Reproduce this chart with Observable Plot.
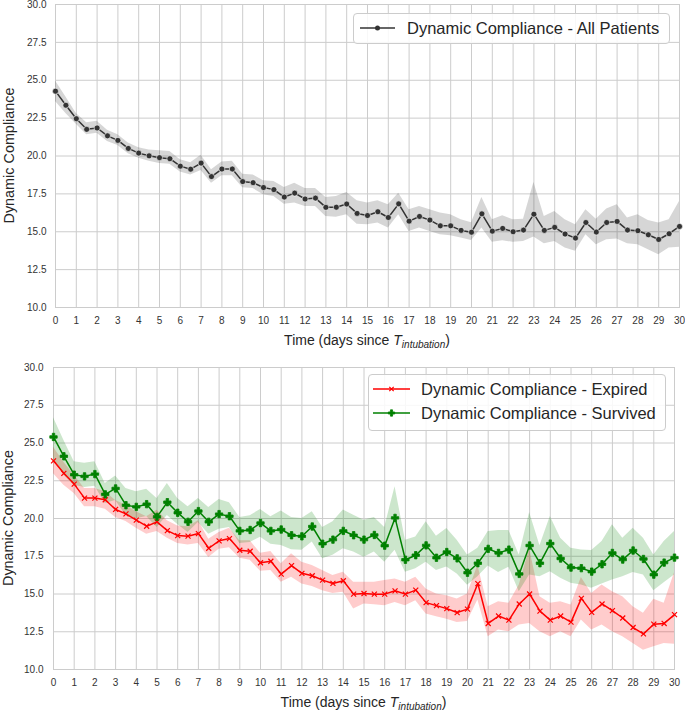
<!DOCTYPE html>
<html><head><meta charset="utf-8">
<script src="https://cdn.jsdelivr.net/npm/d3@7"></script>
<script src="https://cdn.jsdelivr.net/npm/@observablehq/plot@0.6"></script>
<style>
body{margin:0;background:#fff;font-family:"Liberation Sans",Arial,sans-serif;}
#wrap{position:relative;width:685px;height:711px;overflow:hidden;}
.panel{position:relative;width:685px;}
.panel svg{display:block;}
.legend{position:absolute;box-sizing:border-box;background:rgba(255,255,255,0.85);border:1px solid #cccccc;border-radius:4px;font-size:16.5px;color:#262626;}
.legend .row{position:absolute;left:0;right:0;height:22px;}
.legend .row svg{position:absolute;top:0;}
.legend .row span{position:absolute;top:0;line-height:22px;white-space:nowrap;}
</style></head><body>
<div id="wrap"><div class="panel" id="p1"></div><div class="panel" id="p2"></div></div>
<script>
// ---- data ----
const days = [0,0.5,1,1.5,2,2.5,3,3.5,4,4.5,5,5.5,6,6.5,7,7.5,8,8.5,9,9.5,10,10.5,11,11.5,12,12.5,13,13.5,14,14.5,15,15.5,16,16.5,17,17.5,18,18.5,19,19.5,20,20.5,21,21.5,22,22.5,23,23.5,24,24.5,25,25.5,26,26.5,27,27.5,28,28.5,29,29.5,30];
const xTicks = [0,1,2,3,4,5,6,7,8,9,10,11,12,13,14,15,16,17,18,19,20,21,22,23,24,25,26,27,28,29,30];
const yTicks = [10,12.5,15,17.5,20,22.5,25,27.5,30];

const allMean = [24.28,23.35,22.46,21.76,21.85,21.33,21.03,20.5,20.19,20.01,19.89,19.82,19.33,19.13,19.53,18.64,19.14,19.14,18.31,18.24,17.92,17.78,17.29,17.55,17.16,17.22,16.61,16.62,16.83,16.21,16.07,16.32,15.94,16.84,15.7,16.01,15.77,15.39,15.39,15.09,14.97,16.18,15.04,15.22,15.0,15.11,16.16,15.09,15.29,14.85,14.58,15.61,14.98,15.61,15.68,15.11,15.07,14.8,14.49,14.87,15.35];
const allLow = [23.6,22.8,22.1,21.4,21.5,20.95,20.7,20.15,19.85,19.65,19.5,19.45,18.95,18.75,19.05,18.2,18.7,18.7,17.9,17.85,17.45,17.32,16.82,16.89,16.67,16.67,16.01,15.96,16.12,15.5,15.46,15.57,15.24,16.12,15.02,15.24,15.02,14.8,14.73,14.58,14.43,15.24,14.3,14.41,14.3,14.36,14.65,14.21,14.36,13.93,13.71,14.8,14.14,14.47,14.52,14.21,14.14,13.82,13.49,13.93,13.97];
const allHigh = [24.95,23.9,22.8,22.2,22.3,21.7,21.4,20.85,20.55,20.4,20.35,20.3,19.75,19.55,20.05,19.1,19.6,19.65,18.8,18.75,18.36,18.31,17.92,18.2,17.85,17.85,17.26,17.32,17.59,17.04,16.89,17.04,16.78,17.54,16.45,16.67,16.45,16.23,16.12,15.79,15.6,17.26,15.79,16.05,15.79,15.83,18.25,16.01,16.34,15.79,15.46,16.45,15.83,16.5,16.78,15.9,16.12,15.75,15.57,15.79,17.0];

const survMean = [25.4,24.12,22.9,22.79,22.94,21.6,21.99,20.88,20.77,20.95,20.11,21.08,20.38,19.78,20.49,19.78,20.29,20.15,19.18,19.24,19.7,19.18,19.27,18.89,18.82,19.47,18.33,18.6,19.18,18.89,18.6,18.91,18.2,20.04,17.27,17.57,18.22,17.4,17.78,17.36,16.41,17.04,17.99,17.72,17.94,16.33,18.21,17.04,18.34,17.35,16.75,16.71,16.48,16.97,17.72,17.28,17.88,17.32,16.28,17.08,17.41];
const survLow = [23.85,22.87,22.2,22.05,22.14,20.99,21.2,20.2,19.98,20.13,19.4,20.2,19.6,19.07,19.73,18.96,19.29,19.4,18.34,18.41,18.76,18.29,18.22,17.93,17.89,18.44,17.33,17.56,18.0,17.78,17.44,17.78,17.11,17.89,16.44,16.67,17.11,16.56,16.78,16.33,15.58,16.15,16.86,16.42,16.77,15.15,16.26,16.15,16.48,16.04,15.71,15.6,15.38,15.66,15.93,16.15,16.42,16.26,15.22,15.75,16.26];
const survHigh = [26.68,25.18,23.76,23.66,23.76,22.32,22.81,21.99,21.77,21.93,21.33,22.32,21.33,20.77,21.33,20.73,21.26,21.04,20.07,20.18,20.6,20.11,20.49,20.07,20.0,20.44,19.4,19.78,20.56,20.22,19.89,20.07,19.4,22.11,18.56,18.78,19.78,18.82,19.33,18.56,17.58,18.03,19.14,19.2,19.2,17.59,20.4,18.19,20.13,18.69,18.03,17.92,17.88,18.47,19.58,18.69,19.36,18.69,17.59,18.47,19.14];

const expMean = [23.82,22.99,22.28,21.35,21.35,21.24,20.6,20.31,19.89,19.49,19.78,19.2,18.87,18.83,19.0,18.03,18.52,18.67,17.9,17.83,17.07,17.17,16.32,16.88,16.37,16.21,15.92,15.7,15.88,14.99,15.03,14.99,14.99,15.21,14.99,15.26,14.43,14.23,14.03,13.77,14.0,15.69,13.05,13.54,13.27,14.34,15.0,13.87,13.27,13.54,13.14,14.71,13.78,14.34,13.9,13.41,12.78,12.36,13.0,13.05,13.63];
const expLow = [22.97,22.2,21.65,20.77,20.77,20.62,20.07,19.8,19.36,18.96,19.14,18.7,18.34,18.25,18.34,17.41,17.96,18.07,17.36,17.23,16.5,16.56,15.78,16.11,15.67,15.49,15.22,15.04,15.11,14.0,14.33,14.29,14.22,14.44,14.22,14.56,13.67,13.49,13.33,13.11,13.18,14.6,12.17,12.61,12.5,12.94,13.05,12.5,12.17,12.5,12.17,13.27,12.61,12.94,12.5,12.17,11.73,11.28,11.5,11.73,11.68];
const expHigh = [24.72,23.73,22.87,21.99,21.99,21.77,21.2,20.88,20.44,20.11,20.55,19.85,19.51,19.45,19.85,18.63,19.07,19.36,18.52,18.52,17.7,17.82,17.0,17.67,17.11,16.89,16.56,16.22,16.44,15.78,15.78,15.78,15.89,16.0,15.78,16.11,15.33,15.0,14.89,14.67,15.0,16.9,14.16,14.49,14.38,15.6,18.0,14.82,14.38,14.49,14.27,16.1,15.04,15.6,15.15,14.82,14.16,13.72,14.65,14.38,16.4];

const legendAll = "Dynamic Compliance - All Patients";
const legendExp = "Dynamic Compliance - Expired";
const legendSurv = "Dynamic Compliance - Survived";
const yLabel = "Dynamic Compliance";

// ---- build rows ----
const rows = (m, lo, hi) => days.map((t, i) => ({t, m: m[i], lo: lo[i], hi: hi[i]}));
const allRows = rows(allMean, allLow, allHigh);
const survRows = rows(survMean, survLow, survHigh);
const expRows = rows(expMean, expLow, expHigh);

const GRID = "#cccccc";
const TXT = "#333333";
const fmt = d3.format(".1f");

function base(opts, marks) {
  return Plot.plot({
    width: 685,
    height: opts.height,
    marginLeft: opts.ml, marginRight: opts.mr, marginTop: opts.mt, marginBottom: opts.mb,
    style: {fontFamily: '"Liberation Sans", Arial, sans-serif', fontSize: "10px", color: TXT, background: "white"},
    x: {domain: [0, 30]},
    y: {domain: [10, 30]},
    marks: [
      Plot.gridX(xTicks, {stroke: GRID, strokeOpacity: 1, strokeWidth: 1}),
      Plot.gridY(yTicks, {stroke: GRID, strokeOpacity: 1, strokeWidth: 1}),
      Plot.frame({stroke: GRID, strokeWidth: 1}),
      ...marks,
      Plot.axisX(xTicks, {tickSize: 0, tickPadding: 9, label: null, fill: TXT}),
      Plot.axisY(yTicks, {tickSize: 0, tickPadding: opts.ypad, tickFormat: fmt, label: null, fill: TXT})
    ]
  });
}

function addLabels(svg, plot, xBase, yBaseX) {
  const sx = plot.scale("x"), sy = plot.scale("y");
  const cx = (sx.apply(0) + sx.apply(30)) / 2;
  const cy = (sy.apply(10) + sy.apply(30)) / 2;
  const s = d3.select(svg);
  const tx = s.append("text").attr("x", cx).attr("y", xBase).attr("text-anchor", "middle")
    .attr("fill", "#262626").style("font-size", "14px");
  tx.append("tspan").text("Time (days since ");
  tx.append("tspan").attr("font-style", "italic").text("T");
  tx.append("tspan").attr("font-style", "italic").style("font-size", "10px").attr("dy", 3).text("intubation");
  tx.append("tspan").attr("dy", -3).text(")");
  s.append("text").attr("transform", `translate(${yBaseX},${cy}) rotate(-90)`)
    .attr("text-anchor", "middle").attr("fill", "#262626").style("font-size", "14.4px").text(yLabel);
}

// ---- top panel ----
const p1 = base({height: 350, ml: 55, mr: 6, mt: 4, mb: 43, ypad: 9}, [
  Plot.areaY(allRows, {x: "t", y1: "lo", y2: "hi", fill: "#333333", fillOpacity: 0.2}),
  Plot.lineY(allRows, {x: "t", y: "m", stroke: "#333333", strokeWidth: 1.5}),
  Plot.dot(allRows, {x: "t", y: "m", r: 3, fill: "#333333", stroke: "white", strokeWidth: 0.6})
]);
document.getElementById("p1").appendChild(p1);
addLabels(p1, p1, 345, 14);

// ---- bottom panel ----
const p2 = base({height: 361, ml: 53, mr: 11, mt: 17, mb: 42, ypad: 10}, [
  Plot.areaY(expRows, {x: "t", y1: "lo", y2: "hi", fill: "red", fillOpacity: 0.2}),
  Plot.areaY(survRows, {x: "t", y1: "lo", y2: "hi", fill: "green", fillOpacity: 0.2}),
  Plot.lineY(expRows, {x: "t", y: "m", stroke: "red", strokeWidth: 1.5}),
  Plot.dot(expRows, {x: "t", y: "m", symbol: "times", r: 2.4, stroke: "red", strokeWidth: 1.2}),
  Plot.lineY(survRows, {x: "t", y: "m", stroke: "green", strokeWidth: 1.5}),
  Plot.dot(survRows, {x: "t", y: "m", symbol: "cross", r: 3.1, fill: "green", stroke: "green", strokeWidth: 0.8, strokeLinejoin: "round"})
]);
document.getElementById("p2").appendChild(p2);
addLabels(p2, p2, 357, 13);

// ---- legends (HTML overlays) ----
function legend(parent, box, items) {
  const d = document.createElement("div");
  d.className = "legend";
  Object.assign(d.style, {left: box.left + "px", top: box.top + "px", width: box.width + "px", height: box.height + "px"});
  items.forEach(it => {
    const r = document.createElement("div");
    r.className = "row";
    r.style.top = (it.cy - 11) + "px";
    const ns = "http://www.w3.org/2000/svg";
    const sv = document.createElementNS(ns, "svg");
    sv.setAttribute("width", 40); sv.setAttribute("height", 22);
    sv.style.left = box.sx + "px";
    const ln = document.createElementNS(ns, "line");
    ln.setAttribute("x1", 0); ln.setAttribute("x2", box.sw); ln.setAttribute("y1", 11); ln.setAttribute("y2", 11);
    ln.setAttribute("stroke", it.color); ln.setAttribute("stroke-width", 1.5);
    sv.appendChild(ln);
    const c = box.sw / 2;
    if (it.marker === "dot") {
      const m = document.createElementNS(ns, "circle");
      m.setAttribute("cx", c); m.setAttribute("cy", 11); m.setAttribute("r", 2.5); m.setAttribute("fill", it.color);
      sv.appendChild(m);
    } else if (it.marker === "times") {
      const m = document.createElementNS(ns, "path");
      m.setAttribute("d", `M${c-2.2},8.8L${c+2.2},13.2M${c-2.2},13.2L${c+2.2},8.8`);
      m.setAttribute("stroke", it.color); m.setAttribute("stroke-width", 1.2);
      sv.appendChild(m);
    } else {
      const m = document.createElementNS(ns, "path");
      m.setAttribute("d", d3.symbol(d3.symbolCross, 22)());
      m.setAttribute("transform", `translate(${c},11)`);
      m.setAttribute("fill", it.color); m.setAttribute("stroke", it.color); m.setAttribute("stroke-width", 0.8);
      sv.appendChild(m);
    }
    r.appendChild(sv);
    const sp = document.createElement("span");
    sp.style.left = box.tx + "px";
    sp.textContent = it.text;
    r.appendChild(sp);
    d.appendChild(r);
  });
  parent.appendChild(d);
}
legend(document.getElementById("p1"), {left: 353, top: 13, width: 317, height: 31, sx: 6, sw: 35, tx: 53},
  [{cy: 14, color: "#333333", marker: "dot", text: legendAll}]);
legend(document.getElementById("p2"), {left: 368, top: 24, width: 298, height: 57, sx: 4, sw: 37, tx: 52},
  [{cy: 14, color: "red", marker: "times", text: legendExp},
   {cy: 38, color: "green", marker: "cross", text: legendSurv}]);
</script>
</body></html>
